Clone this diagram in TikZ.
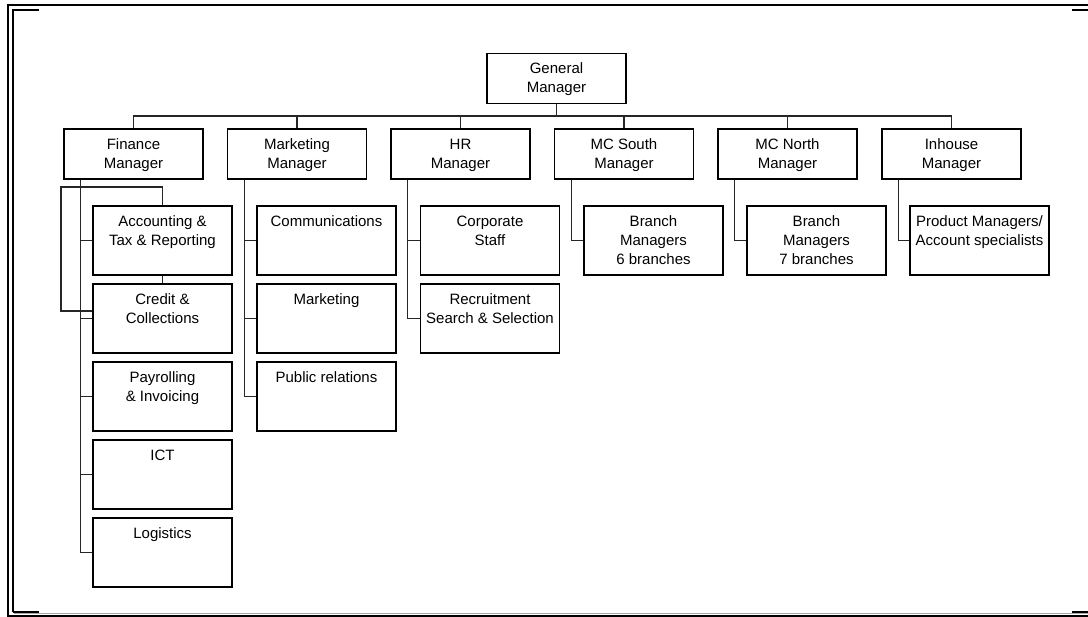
\documentclass[tikz,border=0pt]{standalone}
\usepackage{fontspec}
\setmainfont{Liberation Sans}
\usetikzlibrary{calc}
\newcommand{\st}{\rule{0pt}{9pt}}
\tikzset{
  base/.style={draw=black, line width=0.95pt, fill=white, inner sep=0pt},
  mgr/.style={base, minimum width=104.25pt, minimum height=37.5pt},
  sub/.style={base, minimum width=104.25pt, minimum height=51.75pt},
  txt/.style={anchor=north, inner sep=0pt, yshift=-6.75pt, align=center,
              font=\fontsize{11.25}{14.25}\selectfont},
  conn/.style={draw=black!85, line width=0.8pt},
  frame/.style={line width=1.5pt, black},
}
\begin{document}
\begin{tikzpicture}[x=0.75pt, y=-0.75pt]
\useasboundingbox (0,0) rectangle (1088,617);
% page border
\draw[frame] (7.7,617) -- (7.7,5.3) -- (1088,5.3);
\draw[frame] (7.7,616) -- (1088,616);
\draw[frame] (13,612) -- (13,10.5) -- (38.5,10.5);
\draw[frame] (13,611.5) -- (38.5,611.5);
\draw[frame] (1072,10.5) -- (1088,10.5);
\draw[frame] (1072,611.5) -- (1088,611.5);
\draw[line width=0.8pt, black!35] (14,613.3) -- (1088,613.3);

% top level
\node[mgr, label={[txt]north:\st General\\Manager}] (gm) at (556.5,78.3) {};
% managers
\node[mgr, label={[txt]north:\st Finance\\Manager}] (fin) at (133.5,154) {};
\node[mgr, label={[txt]north:\st Marketing\\Manager}] (mkt) at (297,154) {};
\node[mgr, label={[txt]north:\st HR\\Manager}] (hr) at (460.5,154) {};
\node[mgr, label={[txt]north:\st MC South\\Manager}] (mcs) at (624,154) {};
\node[mgr, label={[txt]north:\st MC North\\Manager}] (mcn) at (787.5,154) {};
\node[mgr, label={[txt]north:\st Inhouse\\Manager}] (inh) at (951.5,154) {};

% finance children
\node[sub, label={[txt]north:\st Accounting \&\\Tax \& Reporting}] (acc) at (162.5,240.5) {};
\node[sub, label={[txt]north:\st Credit \&\\Collections}] (cre) at (162.5,318.5) {};
\node[sub, label={[txt]north:\st Payrolling\\\& Invoicing}] (pay) at (162.5,396.5) {};
\node[sub, label={[txt]north:\st ICT}] (ict) at (162.5,474.5) {};
\node[sub, label={[txt]north:\st Logistics}] (log) at (162.5,552.5) {};
% marketing children
\node[sub, label={[txt]north:\st Communications}] (com) at (326.5,240.5) {};
\node[sub, label={[txt]north:\st Marketing}] (mar) at (326.5,318.5) {};
\node[sub, label={[txt]north:\st Public relations}] (pub) at (326.5,396.5) {};
% HR children
\node[sub, label={[txt]north:\st Corporate\\Staff}] (cor) at (490,240.5) {};
\node[sub, label={[txt]north:\st Recruitment\\Search \& Selection}] (rec) at (490,318.5) {};
% MC south / north / inhouse children
\node[sub, label={[txt]north:\st Branch\\Managers\\6 branches}] (bs) at (653.5,240.5) {};
\node[sub, label={[txt]north:\st Branch\\Managers\\7 branches}] (bn) at (816.5,240.5) {};
\node[sub, label={[txt]north:\st Product Managers/\\Account specialists}] (pm) at (979.5,240.5) {};

% bus from general manager
\coordinate (bus) at (556.5,116);
\draw[conn] (gm.south) -- (bus);
\draw[conn] (fin.north) -- (fin.north |- bus) -- (inh.north |- bus) -- (inh.north);
\foreach \n in {mkt,hr,mcs,mcn}
  \draw[conn] (\n.north) -- (\n.north |- bus);

% stems to children
\foreach \c in {acc,cre,pay,ict,log}
  \draw[conn] ([xshift=13.1pt]fin.south west) |- (\c.west);
\foreach \c in {com,mar,pub}
  \draw[conn] ([xshift=13.1pt]mkt.south west) |- (\c.west);
\foreach \c in {cor,rec}
  \draw[conn] ([xshift=13.1pt]hr.south west) |- (\c.west);
\draw[conn] ([xshift=13.1pt]mcs.south west) |- (bs.west);
\draw[conn] ([xshift=13.1pt]mcn.south west) |- (bn.west);
\draw[conn] ([xshift=13.1pt]inh.south west) |- (pm.west);

% odd loop between accounting and credit
\coordinate (lt) at (61,187);
\coordinate (lb) at (61,311);
\draw[conn] (acc.north) |- (lt) -- (lb) -- (lb -| cre.west);
\draw[conn] (acc.south) -- (cre.north);
\end{tikzpicture}
\end{document}
